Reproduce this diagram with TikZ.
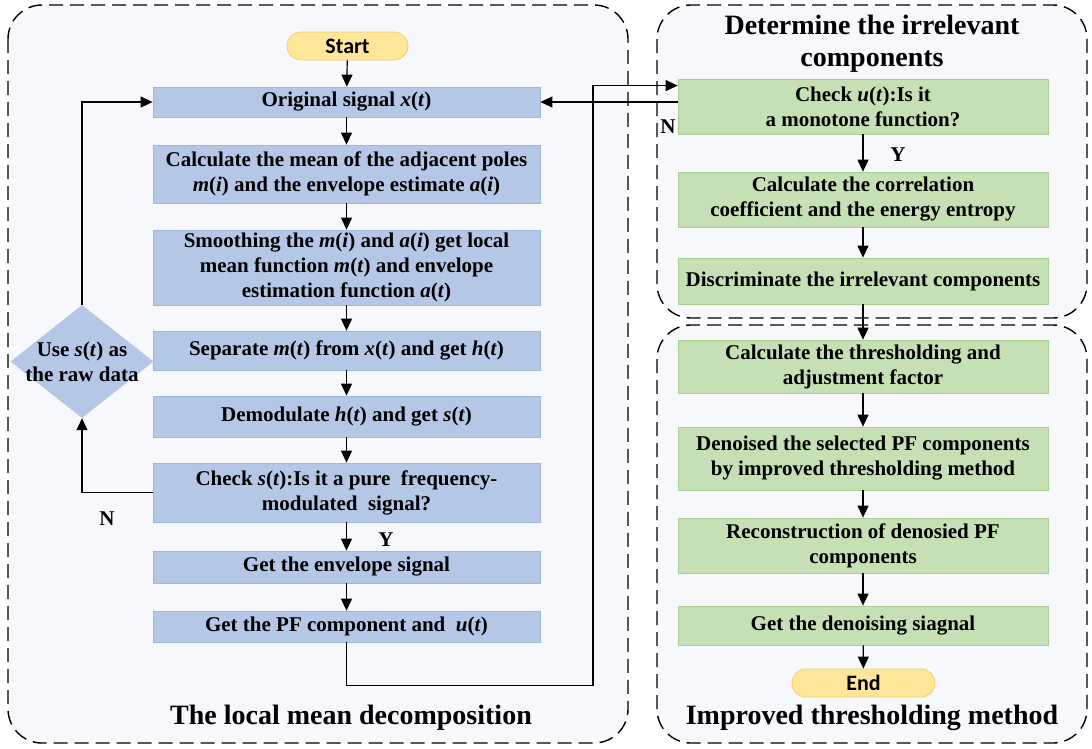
\documentclass[tikz,border=0pt]{standalone}
\usepackage{fontspec}
\setmainfont{Liberation Serif}
\newfontfamily\sansf{Carlito}
\usetikzlibrary{shapes.geometric,arrows.meta,calc}
\definecolor{bluefill}{HTML}{B4C7E7}
\definecolor{blueline}{HTML}{9FB6DF}
\definecolor{greenfill}{HTML}{C5E0B4}
\definecolor{greenline}{HTML}{AACF92}
\definecolor{yelfill}{HTML}{FFE699}
\definecolor{yelline}{HTML}{F2CD6A}
\definecolor{panelfill}{HTML}{F6F8FC}
\begin{document}
\begin{tikzpicture}[x=1pt,y=-1pt,
  panel/.style={draw=black,line width=1.4pt,dash pattern=on 14pt off 7pt,rounded corners=34pt,fill=panelfill},
  bluebox/.style={draw=blueline,fill=bluefill,line width=0.8pt,minimum width=387pt,inner sep=0pt,align=center,font=\fontsize{21}{25}\selectfont\bfseries},
  greenbox/.style={draw=greenline,fill=greenfill,line width=0.8pt,minimum width=370pt,inner sep=0pt,align=center,font=\fontsize{21}{25}\selectfont\bfseries},
  term/.style={draw=yelline,fill=yelfill,line width=0.8pt,rounded corners=14pt,minimum height=28pt,inner sep=0pt,font=\fontsize{22}{24}\selectfont\sansf\bfseries},
  dec/.style={diamond,draw=none,fill=bluefill,minimum width=143pt,minimum height=113pt,inner sep=0pt,aspect=1.27},
  ttl/.style={font=\fontsize{28}{32}\selectfont\bfseries,align=center},
  lbl/.style={font=\fontsize{21}{24}\selectfont\bfseries},
  arr/.style={draw=black,line width=1.2pt,-{Triangle[length=12pt,width=11pt]}},
  ln/.style={draw=black,line width=1.2pt}]
\useasboundingbox (0,0) rectangle (1092,748);
\fill[white] (0,0) rectangle (1092,748);
% panels
\draw[panel] (8,5) rectangle (628,743);
\draw[panel] (657,5) rectangle (1087,318);
\draw[panel] (657,325) rectangle (1087,743);
\node[ttl] (t1) at (351,718) {The local mean decomposition};
\node[ttl] (t2) at (872,44) {Determine the irrelevant\\components};
\node[ttl] (t3) at (872,718) {Improved thresholding method};
% left column
\node[term,minimum width=121pt] (start) at (347.5,46) {Start};
\node[bluebox,minimum height=30pt] (orig) at (346.5,102) {Original signal \textit{x}(\textit{t})};
\node[bluebox,minimum height=58pt] (mean) at (346.5,174) {Calculate the mean of the adjacent poles\\\textit{m}(\textit{i}) and the envelope estimate \textit{a}(\textit{i})};
\node[bluebox,minimum height=75pt] (smooth) at (346.5,267.5) {Smoothing the \textit{m}(\textit{i}) and \textit{a}(\textit{i}) get local\\mean function \textit{m}(\textit{t}) and envelope\\estimation function \textit{a}(\textit{t})};
\node[bluebox,minimum height=39pt] (sep) at (346.5,350.5) {Separate \textit{m}(\textit{t}) from \textit{x}(\textit{t}) and get \textit{h}(\textit{t})};
\node[bluebox,minimum height=41pt] (demod) at (346.5,416.5) {Demodulate \textit{h}(\textit{t}) and get \textit{s}(\textit{t})};
\node[bluebox,minimum height=59pt] (checks) at (346.5,492.5) {Check \textit{s}(\textit{t}):Is it a pure\ \ frequency-\\modulated\ \ signal?};
\node[bluebox,minimum height=32pt] (env) at (346.5,567) {Get the envelope signal};
\node[bluebox,minimum height=31pt] (pf) at (346.5,626.5) {Get the PF component and\ \ \textit{u}(\textit{t})};
\node[dec] (use) at (82,361.5) {};
\node[align=center,font=\fontsize{21}{25}\selectfont\bfseries] (usetxt) at (use.center) {Use \textit{s}(\textit{t}) as\\the raw data};
% right column
\node[greenbox,minimum height=55pt] (checku) at (863,106.5) {Check \textit{u}(\textit{t}):Is it\\a monotone function?};
\node[greenbox,minimum height=55pt] (corr) at (863,199.5) {Calculate the correlation\\coefficient and the energy entropy};
\node[greenbox,minimum height=46pt] (disc) at (863,281) {Discriminate the irrelevant components};
\node[greenbox,minimum height=53pt] (thr) at (863,366.5) {Calculate the thresholding and\\adjustment factor};
\node[greenbox,minimum height=63pt] (den) at (863,458.5) {Denoised the selected PF components\\by improved thresholding method};
\node[greenbox,minimum height=55pt] (rec) at (863,545.5) {Reconstruction of denosied PF\\components};
\node[greenbox,minimum height=39pt] (get) at (863,625.5) {Get the denoising siagnal};
\node[term,minimum width=143pt] (end) at (863.5,683) {End};
% left arrows
\draw[arr] (start) -- (orig);
\draw[arr] (orig) -- (mean);
\draw[arr] (mean) -- (smooth);
\draw[arr] (smooth) -- (sep);
\draw[arr] (sep) -- (demod);
\draw[arr] (demod) -- (checks);
\draw[arr] (checks) -- (env);
\draw[arr] (env) -- (pf);
\draw[arr] (checks.west) -| (use.south);
\draw[arr] (use.north) |- (orig.west);
% right arrows
\draw[arr] (checku) -- (corr);
\draw[arr] (corr) -- (disc);
\draw[arr] (disc) -- (thr);
\draw[arr] (thr) -- (den);
\draw[arr] (den) -- (rec);
\draw[arr] (rec) -- (get);
\draw[arr] (get) -- (end);
% cross connections
\coordinate (cin) at ([yshift=-7pt]checku.north west);
\coordinate (b1) at ([yshift=-43pt]pf.south);
\coordinate (b2) at (593,0);
\draw[arr] (pf.south) -- (b1) -- (b1 -| b2) |- (cin);
\draw[arr] (checku.west |- orig.east) -- (orig.east);
% labels
\node[lbl] (ln1) at (668,127) {N};
\node[lbl] (ly1) at (898,155) {Y};
\node[lbl] (ln2) at (107,519) {N};
\node[lbl] (ly2) at (386,540) {Y};
\end{tikzpicture}
\end{document}
